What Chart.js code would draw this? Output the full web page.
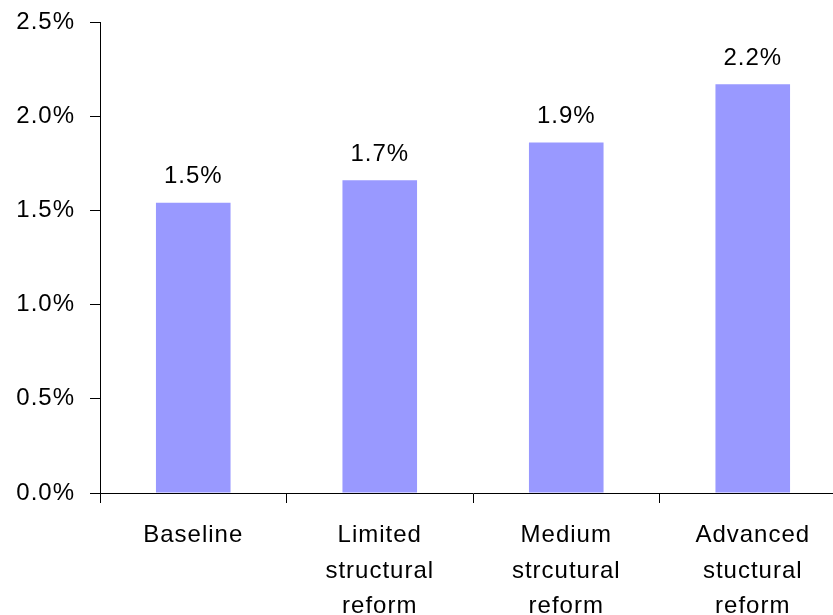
<!DOCTYPE html>
<html>
<head>
<meta charset="utf-8">
<script src="https://cdn.jsdelivr.net/npm/chart.js@4.4.1/dist/chart.umd.min.js"></script>
<style>
  html, body { margin: 0; padding: 0; background: #fff; overflow: hidden; }
  #wrap { width: 860px; height: 615px; position: relative; }
</style>
</head>
<body>
<div id="wrap"><canvas id="c"></canvas></div>
<script>
// Scenario names (multi-line axis labels)
const categories = [
  ['Baseline'],
  ['Limited', 'structural', 'reform'],
  ['Medium', 'strcutural', 'reform'],
  ['Advanced', 'stuctural', 'reform']
];
// Growth rate per scenario, in percent
const growthValues = [1.54, 1.66, 1.86, 2.17];
// Value axis range and step, in percent
const yMin = 0;
const yMax = 2.5;
const yStep = 0.5;

const FONT_FAMILY = '"Liberation Sans", Arial, Helvetica, sans-serif';
const TEXT_SPACING = '1px';

// Slightly widened lettering for all canvas text
const spacingPlugin = {
  id: 'spacing',
  beforeLayout(chart) { chart.ctx.letterSpacing = TEXT_SPACING; },
  beforeDraw(chart) { chart.ctx.letterSpacing = TEXT_SPACING; }
};

// Value labels above each bar
const barLabels = {
  id: 'barLabels',
  afterDatasetsDraw(chart) {
    const ctx = chart.ctx;
    const meta = chart.getDatasetMeta(0);
    const data = chart.data.datasets[0].data;
    ctx.save();
    ctx.letterSpacing = TEXT_SPACING;
    ctx.font = '24px ' + FONT_FAMILY;
    ctx.fillStyle = '#000';
    ctx.textAlign = 'center';
    ctx.textBaseline = 'alphabetic';
    meta.data.forEach((bar, i) => {
      ctx.fillText(data[i].toFixed(1) + '%', bar.x, bar.y - 19.5);
    });
    ctx.restore();
  }
};

new Chart(document.getElementById('c'), {
  type: 'bar',
  data: {
    labels: categories,
    datasets: [{
      data: growthValues,
      backgroundColor: '#9999FF',
      borderWidth: 0,
      barPercentage: 0.4,
      categoryPercentage: 1.0
    }]
  },
  options: {
    responsive: true,
    maintainAspectRatio: false,
    animation: false,
    devicePixelRatio: 1,
    layout: { padding: { left: 0, right: 14, top: 22, bottom: 0 } },
    plugins: {
      legend: { display: false },
      tooltip: { enabled: false }
    },
    scales: {
      x: {
        offset: true,
        grid: {
          offset: true,
          drawOnChartArea: false,
          drawTicks: true,
          tickLength: 10,
          color: '#000',
          lineWidth: 1
        },
        border: { display: true, color: '#000', width: 1 },
        ticks: {
          color: '#000',
          font: { family: FONT_FAMILY, size: 24, lineHeight: 1.48 },
          padding: 15,
          maxRotation: 0,
          autoSkip: false
        },
        afterFit(scale) { scale.height = 122; }
      },
      y: {
        min: yMin,
        max: yMax,
        grid: {
          drawOnChartArea: false,
          drawTicks: true,
          tickLength: 10,
          color: '#000',
          lineWidth: 1
        },
        border: { display: true, color: '#000', width: 1 },
        ticks: {
          stepSize: yStep,
          color: '#000',
          padding: 15,
          font: { family: FONT_FAMILY, size: 24 },
          callback: (v) => Number(v).toFixed(1) + '%'
        },
        afterFit(scale) {
          scale.width = 100;
          scale.paddingTop = 0;
          scale.paddingBottom = 0;
        }
      }
    }
  },
  plugins: [spacingPlugin, barLabels]
});
</script>
</body>
</html>
